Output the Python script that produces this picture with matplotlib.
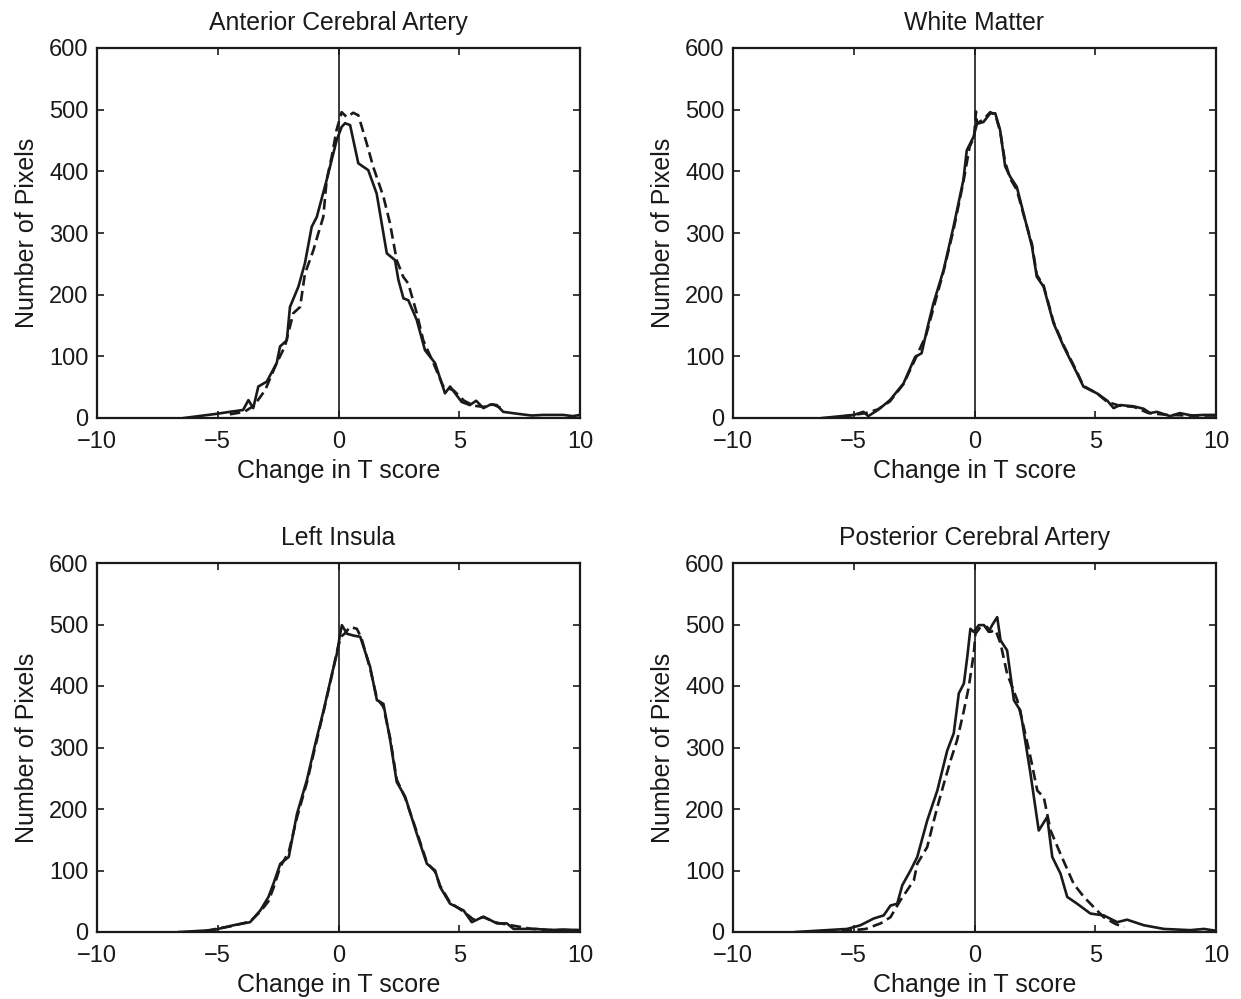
import matplotlib
matplotlib.use("Agg")
import matplotlib.pyplot as plt

plt.rcParams['font.family'] = ['Liberation Sans', 'DejaVu Sans']
plt.rcParams['font.size'] = 17

titles = ["Anterior Cerebral Artery", "White Matter",
          "Left Insula", "Posterior Cerebral Artery"]
xlabel_text = "Change in T score"
ylabel_text = "Number of Pixels"
xticks = [-10, -5, 0, 5, 10]
yticks = [0, 100, 200, 300, 400, 500, 600]

# Anterior Cerebral Artery
aca_x = [-6.4, -5.0, -4.5, -3.95, -3.73, -3.53, -3.32, -2.97, -2.56, -2.42, -2.14, -2.01,
         -1.66, -1.39, -1.11, -0.90, -0.49, -0.08, 0.13, 0.27, 0.48, 0.82, 1.23, 1.58,
         2.0, 2.34, 2.48, 2.69, 2.89, 3.24, 3.58, 4.0, 4.41, 4.62, 5.10, 5.44, 5.7, 6.0,
         6.3, 6.55, 6.82, 7.38, 8.0, 8.47, 9.3, 9.7, 10.0]
aca_y = [0, 7, 10, 13, 29, 16, 51, 59, 89, 116, 126, 180,
         213, 251, 310, 326, 386, 450, 472, 478, 475, 413, 402, 364,
         267, 256, 224, 194, 191, 159, 110, 89, 40, 51, 26, 21, 28, 16,
         22, 21, 10, 7, 4, 5, 5, 3, 5]
aca_fit_x = [-4.5, -3.9, -3.5, -3.04, -2.56, -2.22, -1.87, -1.59, -1.39, -1.04, -0.84,
             -0.63, -0.49, -0.28, -0.08, 0.13, 0.34, 0.61, 0.82, 1.17, 1.44, 1.86, 2.13,
             2.41, 2.68, 2.89, 3.24, 3.51, 3.93, 4.34, 4.76, 5.2, 5.6, 6.0, 6.4, 6.8]
aca_fit_y = [6, 10, 20, 45, 89, 116, 170, 180, 234, 272, 299,
             326, 386, 424, 467, 496, 488, 495, 491, 445, 407, 359, 316,
             256, 229, 218, 170, 126, 89, 51, 45, 28, 20, 18, 22, 15]

# White Matter
wm_x = [-6.3, -5.0, -4.6, -4.4, -4.0, -3.5, -2.94, -2.46, -2.19, -1.97, -1.70, -1.28,
        -0.87, -0.46, -0.32, -0.04, 0.10, 0.37, 0.65, 0.86, 1.06, 1.27, 1.48, 1.75,
        2.03, 2.38, 2.58, 2.86, 3.27, 3.69, 4.24, 4.51, 5.07, 5.5, 5.76, 6.03, 6.58,
        7.0, 7.27, 7.55, 8.1, 8.5, 9.0, 9.5, 10.0]
wm_y = [0, 5, 10, 3, 13, 29, 56, 99, 105, 143, 186, 240,
        310, 386, 434, 456, 477, 480, 494, 494, 467, 408, 391, 375,
        332, 278, 229, 213, 154, 116, 73, 51, 40, 28, 16, 21, 19,
        15, 8, 10, 3, 8, 4, 5, 5]
wm_fit_x = [-5.5, -4.5, -4.0, -3.5, -2.94, -2.46, -2.0, -1.70, -1.28, -0.87, -0.46,
            -0.2, -0.02, 0.06, 0.10, 0.37, 0.65, 0.86, 1.06, 1.27, 1.48, 1.75, 2.03,
            2.38, 2.58, 2.86, 3.27, 3.69, 4.24, 4.51, 5.07, 5.5, 6.0, 6.6, 7.2, 8.0,
            9.0, 10.0]
wm_fit_y = [2, 8, 14, 27, 55, 95, 135, 178, 238, 305, 383,
            440, 455, 497, 478, 484, 496, 492, 465, 415, 388, 370, 330,
            282, 232, 215, 156, 118, 75, 52, 40, 26, 20, 18, 8, 5,
            4, 4]

# Left Insula
li_x = [-6.6, -5.2, -4.35, -3.66, -3.24, -2.9, -2.69, -2.41, -2.06, -1.72, -1.31, -0.96,
        -0.62, -0.27, -0.07, 0.07, 0.14, 0.35, 0.62, 0.90, 1.31, 1.59, 1.86, 2.14, 2.41,
        2.76, 3.24, 3.66, 4.0, 4.21, 4.62, 5.18, 5.52, 6.0, 6.56, 6.97, 7.25, 8.2, 8.7,
        9.3, 10.0]
li_y = [0, 3, 11, 16, 35, 57, 79, 111, 122, 192, 247, 306,
        360, 420, 452, 485, 499, 485, 482, 480, 431, 377, 371, 312, 244,
        220, 160, 111, 100, 73, 46, 35, 16, 25, 14, 14, 5, 5, 3,
        4, 3]
li_fit_x = [-5.5, -4.5, -3.66, -3.24, -2.9, -2.69, -2.41, -2.06, -1.72, -1.31, -0.96,
            -0.62, -0.27, -0.07, 0.1, 0.25, 0.48, 0.76, 0.95, 1.31, 1.59, 1.86, 2.14,
            2.41, 2.76, 3.24, 3.66, 4.0, 4.21, 4.62, 5.18, 5.6, 6.0, 6.56, 7.0, 8.0,
            9.0, 10.0]
li_fit_y = [2, 9, 17, 33, 50, 72, 106, 130, 186, 243, 302,
            358, 418, 455, 480, 485, 496, 493, 478, 428, 380, 366, 315,
            248, 218, 163, 113, 98, 75, 48, 33, 20, 24, 15, 12, 5,
            3, 3]

# Posterior Cerebral Artery
pca_x = [-7.4, -5.27, -4.72, -4.17, -3.76, -3.48, -3.2, -2.99, -2.65, -2.37, -1.96, -1.54,
         -1.13, -0.86, -0.65, -0.44, -0.30, -0.17, -0.03, 0.18, 0.39, 0.59, 0.73, 0.94,
         1.08, 1.35, 1.63, 1.9, 2.32, 2.66, 3.01, 3.22, 3.56, 3.84, 4.25, 4.8, 5.35, 5.91,
         6.32, 7.01, 7.84, 8.94, 9.5, 10.0]
pca_y = [0, 5, 11, 22, 27, 43, 46, 76, 100, 122, 181, 230,
         295, 323, 388, 404, 447, 493, 488, 499, 499, 488, 499, 512,
         474, 458, 377, 360, 257, 165, 187, 122, 95, 57, 46, 30, 27, 16,
         20, 11, 5, 3, 5, 2]
pca_fit_x = [-5.5, -4.5, -3.89, -3.48, -3.06, -2.51, -2.37, -1.96, -1.82, -1.54, -1.27,
             -0.99, -0.72, -0.44, -0.24, -0.03, 0.04, 0.25, 0.52, 0.66, 0.87, 1.08, 1.35,
             1.77, 2.04, 2.32, 2.6, 2.87, 3.15, 3.56, 4.11, 4.53, 4.8, 5.35, 5.84, 6.2]
pca_fit_y = [1, 5, 14, 24, 52, 84, 111, 138, 160, 203, 241,
             279, 312, 360, 398, 453, 485, 496, 496, 488, 491, 469, 420,
             377, 333, 284, 230, 219, 165, 127, 78, 57, 46, 24, 13, 8]

panels = [
    (aca_x, aca_y, aca_fit_x, aca_fit_y),
    (wm_x, wm_y, wm_fit_x, wm_fit_y),
    (li_x, li_y, li_fit_x, li_fit_y),
    (pca_x, pca_y, pca_fit_x, pca_fit_y),
]

W, H = 1241, 999
fig = plt.figure(figsize=(W / 100, H / 100), dpi=100)

# axes rectangles in pixels: left, top, right, bottom
rects = [(97, 48, 580, 418), (733, 48, 1216, 418),
         (97, 563, 580, 932), (733, 563, 1216, 932)]

ink = "#1a1a1a"
for (l, t, r, b), title, (sx, sy, fx, fy) in zip(rects, titles, panels):
    ax = fig.add_axes([l / W, 1 - b / H, (r - l) / W, (b - t) / H])
    ax.plot(fx, fy, color=ink, lw=1.9, linestyle=(0, (4, 2)))
    ax.plot(sx, sy, color=ink, lw=1.9)
    ax.axvline(0, color=ink, lw=1.2)
    ax.set_xlim(-10, 10)
    ax.set_ylim(0, 600)
    ax.set_xticks(xticks)
    ax.set_yticks(yticks)
    ax.tick_params(direction="in", length=5, width=1.2, top=True, right=True,
                   colors=ink, labelsize=17)
    ax.tick_params(axis="x", pad=9)
    ax.tick_params(axis="y", pad=6)
    for sp in ax.spines.values():
        sp.set_linewidth(1.6)
        sp.set_color(ink)
    ax.set_title(title, fontsize=17.8, pad=13, color=ink)
    ax.set_xlabel(xlabel_text, fontsize=18, labelpad=5, color=ink)
    ax.set_ylabel(ylabel_text, fontsize=18, labelpad=7, color=ink)

fig.savefig("out.png", dpi=100, facecolor="white")
